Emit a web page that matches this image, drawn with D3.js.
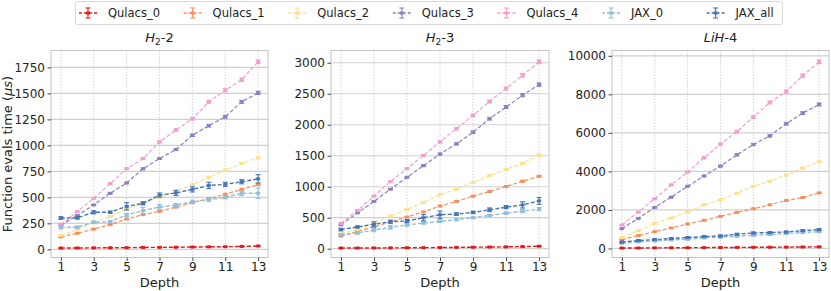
<!DOCTYPE html>
<html>
<head>
<meta charset="utf-8">
<script src="https://cdn.jsdelivr.net/npm/d3@7"></script>
<style>
  body { margin: 0; background: #fff; }
  svg { font-family: "DejaVu Sans", sans-serif; }
</style>
</head>
<body>
<div id="container"></div>
<script>
// ==================== data ==================== //

const depths = [1, 2, 3, 4, 5, 6, 7, 8, 9, 10, 11, 12, 13];
const seriesNames = ["Qulacs_0", "Qulacs_1", "Qulacs_2", "Qulacs_3", "Qulacs_4", "JAX_0", "JAX_all"];
const seriesColors = ["#e31a1c", "#fc8d59", "#fee08b", "#8e7fc0", "#ef9fd0", "#91bfdb", "#4575b4"];
const xTicks = [1, 3, 5, 7, 9, 11, 13];

// H2-2
const h22_q0 = [12, 13, 14, 15, 16, 18, 19, 20, 22, 24, 25, 28, 32];
const h22_q1 = [120, 154, 195, 237, 292, 334, 366, 406, 448, 488, 530, 578, 622];
const h22_q2 = [134, 188, 261, 316, 386, 446, 500, 561, 622, 692, 762, 826, 880];
const h22_q3 = [232, 325, 427, 539, 638, 775, 873, 960, 1097, 1189, 1275, 1419, 1505];
const h22_q4 = [238, 363, 491, 631, 775, 873, 1033, 1148, 1256, 1419, 1530, 1632, 1804];
const h22_j0 = [211, 213, 260, 266, 330, 372, 407, 426, 458, 477, 500, 538, 540];
const h22_j0_err = [15, 10, 12, 10, 15, 30, 25, 15, 15, 15, 15, 20, 50];
const h22_ja = [301, 303, 356, 357, 413, 442, 522, 542, 577, 615, 625, 650, 678];
const h22_ja_err = [12, 12, 15, 10, 35, 15, 20, 25, 25, 30, 20, 20, 40];

// H2-3
const h23_q0 = [10, 11, 12, 13, 15, 17, 19, 21, 24, 27, 30, 34, 40];
const h23_q1 = [203, 278, 352, 432, 512, 593, 689, 763, 849, 923, 1004, 1089, 1169];
const h23_q2 = [240, 310, 416, 528, 635, 747, 870, 961, 1068, 1180, 1281, 1377, 1511];
const h23_q3 = [384, 577, 763, 961, 1153, 1340, 1527, 1692, 1879, 2098, 2285, 2477, 2648];
const h23_q4 = [406, 619, 849, 1084, 1292, 1505, 1724, 1938, 2151, 2375, 2584, 2797, 3016];
const h23_j0 = [225, 255, 298, 346, 383, 415, 441, 468, 500, 537, 574, 606, 638];
const h23_j0_err = [20, 20, 25, 30, 20, 20, 20, 15, 15, 15, 20, 25, 25];
const h23_ja = [309, 351, 394, 436, 447, 500, 548, 559, 585, 628, 670, 707, 771];
const h23_ja_err = [20, 15, 40, 25, 25, 50, 60, 20, 20, 30, 25, 50, 55];

// LiH-4
const lih_q0 = [20, 25, 30, 35, 40, 45, 50, 55, 60, 65, 70, 78, 85];
const lih_q1 = [464, 670, 876, 1065, 1271, 1460, 1667, 1873, 2062, 2268, 2491, 2646, 2886];
const lih_q2 = [567, 928, 1306, 1581, 1890, 2268, 2526, 2869, 3230, 3488, 3814, 4175, 4501];
const lih_q3 = [1031, 1563, 2130, 2663, 3230, 3763, 4278, 4862, 5395, 5842, 6477, 7027, 7474];
const lih_q4 = [1220, 1890, 2577, 3299, 3969, 4708, 5412, 6065, 6821, 7577, 8144, 8969, 9690];
const lih_j0 = [275, 343, 395, 446, 481, 549, 584, 635, 687, 721, 773, 824, 876];
const lih_j0_err = [40, 40, 40, 40, 40, 40, 40, 40, 40, 40, 40, 40, 50];
const lih_ja = [330, 412, 464, 515, 567, 618, 652, 738, 807, 824, 858, 927, 979];
const lih_ja_err = [40, 40, 40, 40, 40, 40, 40, 40, 40, 40, 40, 40, 50];

const qulacsErr = 0.01; // relative, tiny bars

const panels = [
    { title: ["H", "2", "-2"], yStep: 250, left: 51, right: 268,
      series: [h22_q0, h22_q1, h22_q2, h22_q3, h22_q4, h22_j0, h22_ja],
      errs: [null, null, null, null, null, h22_j0_err, h22_ja_err] },
    { title: ["H", "2", "-3"], yStep: 500, left: 331, right: 549,
      series: [h23_q0, h23_q1, h23_q2, h23_q3, h23_q4, h23_j0, h23_ja],
      errs: [null, null, null, null, null, h23_j0_err, h23_ja_err] },
    { title: ["LiH", null, "-4"], yStep: 2000, left: 612, right: 829,
      series: [lih_q0, lih_q1, lih_q2, lih_q3, lih_q4, lih_j0, lih_ja],
      errs: [null, null, null, null, null, lih_j0_err, lih_ja_err] }
];

// ==================== drawing ==================== //

const width = 831, height = 291;
const plotTop = 50.5, plotBottom = 257.5;

const svg = d3.select("#container")
    .append("svg")
    .attr("width", width)
    .attr("height", height);

panels.forEach((p, pi) => drawPanel(p, pi));
drawLegend();

function drawPanel(p, pi) {
    let lo = Infinity, hi = -Infinity;
    p.series.forEach((vals, si) => {
        vals.forEach((v, i) => {
            const e = p.errs[si] ? p.errs[si][i] : v * qulacsErr;
            lo = Math.min(lo, v - e);
            hi = Math.max(hi, v + e);
        });
    });
    const pad = (hi - lo) * 0.05;

    const x = d3.scaleLinear().domain([0.4, 13.6]).range([p.left, p.right]);
    const y = d3.scaleLinear().domain([lo - pad, hi + pad]).range([plotBottom, plotTop]);

    const g = svg.append("g");
    const yTicks = d3.range(0, hi + pad, p.yStep);

    // grid
    g.selectAll(".hgrid").data(yTicks).join("line")
        .attr("x1", p.left).attr("x2", p.right)
        .attr("y1", d => y(d)).attr("y2", d => y(d))
        .attr("stroke", "#d0d0d0").attr("stroke-width", 1.2);
    g.selectAll(".vgrid").data(xTicks).join("line")
        .attr("x1", d => x(d)).attr("x2", d => x(d))
        .attr("y1", plotTop).attr("y2", plotBottom)
        .attr("stroke", "#c8c8c8").attr("stroke-width", 0.8)
        .attr("stroke-dasharray", "1.5,1.5");

    // frame
    g.append("rect")
        .attr("x", p.left).attr("y", plotTop)
        .attr("width", p.right - p.left).attr("height", plotBottom - plotTop)
        .attr("fill", "none").attr("stroke", "#c4c4c4").attr("stroke-width", 1);

    // axes
    const xAxis = g.append("g")
        .attr("transform", `translate(0,${plotBottom})`)
        .call(d3.axisBottom(x).tickValues(xTicks).tickSize(3.5).tickPadding(1.5));
    const yAxis = g.append("g")
        .attr("transform", `translate(${p.left},0)`)
        .call(d3.axisLeft(y).tickValues(yTicks).tickFormat(d3.format("d"))
            .tickSize(3.5).tickPadding(2.5));
    [xAxis, yAxis].forEach(a => {
        a.select(".domain").remove();
        a.selectAll("line").attr("stroke", "#444");
        a.selectAll("text").attr("font-size", 12).attr("fill", "#222")
            .attr("font-family", "DejaVu Sans");
    });

    // lines, error bars, markers
    const line = d3.line().x((d, i) => x(depths[i])).y(d => y(d));
    p.series.forEach((vals, si) => {
        const color = seriesColors[si];
        const isJax = si >= 5;
        g.append("path")
            .datum(vals)
            .attr("d", line)
            .attr("fill", "none")
            .attr("stroke", color)
            .attr("stroke-width", isJax || si === 0 ? 1.4 : 1.2)
            .attr("stroke-dasharray", "4,2");

        const errs = vals.map((v, i) => p.errs[si] ? p.errs[si][i] : v * qulacsErr);
        const eb = g.append("g").attr("stroke", color).attr("stroke-width", 1.1);
        vals.forEach((v, i) => {
            const cx = x(depths[i]);
            const y0 = y(v - errs[i]), y1 = y(v + errs[i]);
            eb.append("line").attr("x1", cx).attr("x2", cx).attr("y1", y0).attr("y2", y1);
            eb.append("line").attr("x1", cx - 2.5).attr("x2", cx + 2.5).attr("y1", y0).attr("y2", y0);
            eb.append("line").attr("x1", cx - 2.5).attr("x2", cx + 2.5).attr("y1", y1).attr("y2", y1);
        });
        g.append("g").selectAll("rect").data(vals).join("rect")
            .attr("x", (d, i) => x(depths[i]) - 2)
            .attr("y", d => y(d) - 1.5)
            .attr("width", 4).attr("height", 3)
            .attr("fill", color);
    });

    // title
    const t = g.append("text")
        .attr("x", (p.left + p.right) / 2).attr("y", 42)
        .attr("text-anchor", "middle").attr("font-size", 13).attr("fill", "#222");
    t.append("tspan").attr("font-style", "italic").text(p.title[0]);
    if (p.title[1]) {
        t.append("tspan").attr("font-size", 9).attr("dy", 2.5).text(p.title[1]);
        t.append("tspan").attr("dy", -2.5).text(p.title[2]);
    } else {
        t.append("tspan").text(p.title[2]);
    }

    // x label
    g.append("text")
        .attr("x", (p.left + p.right) / 2).attr("y", 287)
        .attr("text-anchor", "middle").attr("font-size", 13).attr("fill", "#222")
        .text("Depth");

    if (pi === 0) {
        const yl = g.append("text")
            .attr("transform", `translate(12,${(plotTop + plotBottom) / 2}) rotate(-90)`)
            .attr("text-anchor", "middle").attr("font-size", 13).attr("fill", "#222");
        yl.append("tspan").text("Function evals time (");
        yl.append("tspan").attr("font-style", "italic").text("\u03bcs");
        yl.append("tspan").text(")");
    }
}

function drawLegend() {
    const lg = svg.append("g");
    lg.append("rect")
        .attr("x", 75.5).attr("y", 1.5).attr("width", 707).attr("height", 23)
        .attr("rx", 2)
        .attr("fill", "#fff").attr("stroke", "#d8d8d8");
    seriesNames.forEach((name, i) => {
        const cx = 88 + i * 104.6;
        const cy = 13;
        const color = seriesColors[i];
        lg.append("line")
            .attr("x1", cx - 9).attr("x2", cx + 9).attr("y1", cy).attr("y2", cy)
            .attr("stroke", color).attr("stroke-width", 1.3).attr("stroke-dasharray", "3,2");
        lg.append("line")
            .attr("x1", cx).attr("x2", cx).attr("y1", cy - 5).attr("y2", cy + 5)
            .attr("stroke", color).attr("stroke-width", 1.1);
        [cy - 5, cy + 5].forEach(yy => lg.append("line")
            .attr("x1", cx - 2.5).attr("x2", cx + 2.5).attr("y1", yy).attr("y2", yy)
            .attr("stroke", color).attr("stroke-width", 1.1));
        lg.append("rect")
            .attr("x", cx - 2).attr("y", cy - 1.5).attr("width", 4).attr("height", 3)
            .attr("fill", color);
        lg.append("text")
            .attr("x", cx + 20).attr("y", cy + 4)
            .attr("font-size", 11.5).attr("fill", "#222")
            .text(name);
    });
}
</script>
</body>
</html>
